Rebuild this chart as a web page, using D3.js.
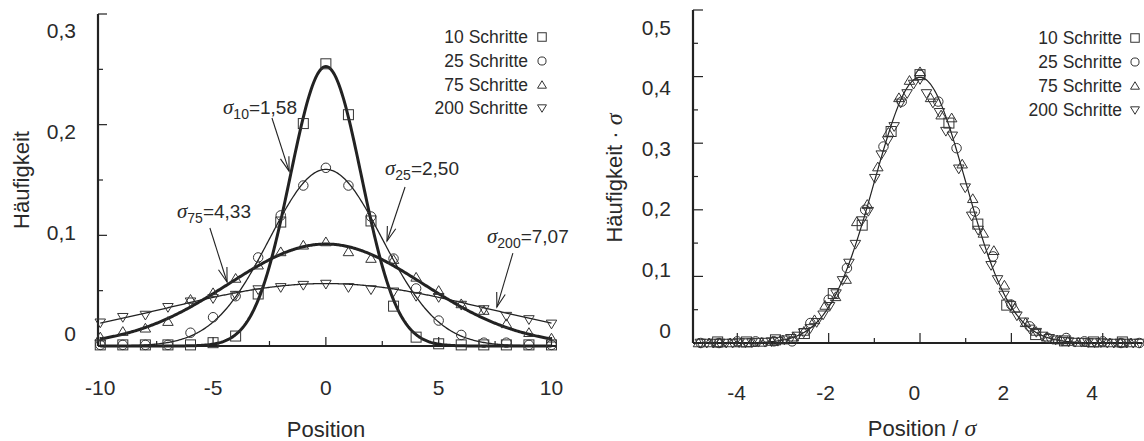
<!DOCTYPE html>
<html><head><meta charset="utf-8">
<script src="https://cdn.jsdelivr.net/npm/d3@7"></script>
<style>
body{margin:0;background:#fff}
svg{display:block}
text{font-family:"Liberation Sans",Arial,sans-serif;fill:#2a2a2a}
</style>
</head><body>
<svg id="c" width="1144" height="441"></svg>
<script>
// ---------------- data ----------------
const seriesNames = ["10 Schritte", "25 Schritte", "75 Schritte", "200 Schritte"];
const stepLabels = ["10", "25", "75", "200"];
const sigmas = [1.58, 2.50, 4.33, 7.07];
const sigmaLabels = ["1,58", "2,50", "4,33", "7,07"];
const markerTypes = ["square", "circle", "up", "down"];

// relative frequency at integer positions (first position given by start*)
const start10 = -10;
const freq10 = [0.001,0.001,0.001,0.001,0.001,0.003,0.009,0.047,0.112,0.201,0.255,
                0.209,0.113,0.036,0.008,0.002,0.001,0.001,0.001,0.001,0.001];
const start25 = -12;
const freq25 = [0,0,0.001,0.001,0.001,0.001,0.012,0.026,0.045,0.080,0.118,0.145,0.161,
                0.145,0.117,0.079,0.052,0.023,0.010,0.003,0.003,0.001,0.001,0,0];
const start75 = -21;
const freq75 = [0,0,0,0,0,0.0001,0.0002,0.0005,0.001,0.002,0.004,0.008,0.013,0.016,0.022,
                0.042,0.048,0.061,0.073,0.085,0.091,0.094,0.085,0.079,0.078,0.062,0.050,
                0.038,0.032,0.020,0.012,0.007,0.004,0.002,0.001,0.0005,0.0002,0.0001,0,0,0,0,0];
const start200 = -34;
const freq200 = [0,0,0,0,0,0,0.0001,0.0001,0.0001,0.0002,0.0002,0.0003,
                 0.0004,0.0007,0.001,0.0015,0.0022,0.0031,0.0044,0.006,0.0078,0.0105,0.0133,0.017,
                 0.021,0.026,0.028,0.035,0.040,0.043,0.046,0.051,0.053,0.055,0.056,
                 0.053,0.051,0.049,0.045,0.044,0.037,0.033,0.027,0.024,0.020,
                 0.0165,0.0135,0.0102,0.008,0.0058,0.0045,0.003,0.0023,0.0015,0.001,0.0007,0.0004,
                 0.0003,0.0002,0.0002,0.0001,0.0001,0.0001,0,0,0,0,0,0];

const xTicksLeft = [-10, -5, 0, 5, 10];
const xTickLabelsLeft = ["-10", "-5", "0", "5", "10"];
const yTicksLeft = [0, 0.1, 0.2, 0.3];
const yTickLabelsLeft = ["0", "0,1", "0,2", "0,3"];
const xTicksRight = [-4, -2, 0, 2, 4];
const xTickLabelsRight = ["-4", "-2", "0", "2", "4"];
const yTicksRight = [0, 0.1, 0.2, 0.3, 0.4, 0.5];
const yTickLabelsRight = ["0", "0,1", "0,2", "0,3", "0,4", "0,5"];

// annotation anchors in data coordinates (text, arrow start, arrow tip)
const annotText = [[-4.56,0.2096],[2.62,0.1545],[-6.60,0.1157],[7.14,0.0931]];
const annotFrom = [[-2.39,0.206],[3.51,0.1437],[-5.14,0.1066],[8.29,0.0840]];
const annotTip  = [[-1.63,0.158],[2.71,0.0949],[-4.38,0.0578],[7.58,0.0352]];

// ---------------- build ----------------
const starts = [start10, start25, start75, start200];
const freqs = [freq10, freq25, freq75, freq200];
const series = freqs.map((f, k) => f.map((v, i) => ({p: starts[k] + i, v})));

const svg = d3.select("#c");
const ink = "#222";
const gauss = (x, s) => Math.exp(-x * x / (2 * s * s)) / (s * Math.sqrt(2 * Math.PI));

function marker(g, type, x, y, s, sw) {
  const h = s / 2;
  let el;
  if (type === "square") el = g.append("rect").attr("x", x - h).attr("y", y - h).attr("width", s).attr("height", s);
  else if (type === "circle") el = g.append("circle").attr("cx", x).attr("cy", y).attr("r", h * 0.95);
  else if (type === "up") el = g.append("path").attr("d", `M${x},${y - h}L${x + h * 1.05},${y + h * 0.75}L${x - h * 1.05},${y + h * 0.75}Z`);
  else el = g.append("path").attr("d", `M${x},${y + h}L${x + h * 1.05},${y - h * 0.75}L${x - h * 1.05},${y - h * 0.75}Z`);
  el.attr("fill", "none").attr("stroke", "#333").attr("stroke-width", sw || 1);
}

// ================= LEFT =================
const xL = d3.scaleLinear().domain([-10.1, 10.2]).range([98, 556]);
const yL = d3.scaleLinear().domain([0, 0.3]).range([346, 14]);
const yLlab = d3.scaleLinear().domain([0, 0.3]).range([333, 30]);
const gl = svg.append("g");

gl.append("line").attr("x1", xL.range()[0]).attr("x2", xL.range()[1]).attr("y1", yL(0)).attr("y2", yL(0))
  .attr("stroke", ink).attr("stroke-width", 2);
gl.append("line").attr("x1", xL.range()[0]).attr("x2", xL.range()[0]).attr("y1", yL(0)).attr("y2", yL(0.3))
  .attr("stroke", ink).attr("stroke-width", 2.2);
d3.range(0, 0.3001, 0.05).forEach((t, i) => {
  const major = i % 2 === 0;
  gl.append("line").attr("x1", xL.range()[0]).attr("x2", xL.range()[0] + (major ? 9 : 5))
    .attr("y1", yL(t)).attr("y2", yL(t)).attr("stroke", ink).attr("stroke-width", 1.2);
});
d3.range(-10, 10.001, 2.5).forEach((t, i) => {
  const major = i % 2 === 0;
  gl.append("line").attr("x1", xL(t)).attr("x2", xL(t)).attr("y1", yL(0)).attr("y2", yL(0) - (major ? 9 : 5))
    .attr("stroke", ink).attr("stroke-width", 1.2);
});
yTicksLeft.forEach((t, i) => gl.append("text").attr("x", 76).attr("y", yLlab(t)).attr("dy", "0.36em")
  .attr("text-anchor", "end").attr("font-size", 21).text(yTickLabelsLeft[i]));
xTicksLeft.forEach((t, i) => gl.append("text").attr("x", xL(t)).attr("y", 387).attr("dy", "0.36em")
  .attr("text-anchor", "middle").attr("font-size", 21).text(xTickLabelsLeft[i]));
gl.append("text").attr("x", 326).attr("y", 437).attr("text-anchor", "middle").attr("font-size", 22).text("Position");
gl.append("text").attr("transform", "translate(29,180) rotate(-90)").attr("text-anchor", "middle")
  .attr("font-size", 22).text("Häufigkeit");

// curves
const xsL = d3.range(-10, 10.0001, 0.05);
sigmas.forEach((s, k) => {
  gl.append("path").datum(xsL)
    .attr("d", d3.line().x(d => xL(d)).y(d => yL(gauss(d, s))))
    .attr("fill", "none").attr("stroke", ink)
    .attr("stroke-width", (k === 0 || k === 2) ? 3 : 1.3);
});
series.forEach((ser, k) => {
  ser.filter(d => d.p >= -10 && d.p <= 10).forEach(d => marker(gl, markerTypes[k], xL(d.p), yL(d.v), 10));
});
sigmas.forEach((s, k) => {
  const t = gl.append("text").attr("x", xL(annotText[k][0])).attr("y", yL(annotText[k][1])).attr("font-size", 19);
  t.append("tspan").attr("font-family", "'Liberation Serif',serif").attr("font-style", "italic").attr("font-size", 21).text("σ");
  t.append("tspan").attr("dy", 5).attr("font-size", 14).text(stepLabels[k]);
  t.append("tspan").attr("dy", -5).text("=" + sigmaLabels[k]);
  const x1 = xL(annotFrom[k][0]), y1 = yL(annotFrom[k][1]);
  const x2 = xL(annotTip[k][0]), y2 = yL(annotTip[k][1]);
  gl.append("line").attr("x1", x1).attr("y1", y1).attr("x2", x2).attr("y2", y2).attr("stroke", ink).attr("stroke-width", 1.1);
  const a = Math.atan2(y1 - y2, x1 - x2), L = 15, da = 0.3;
  gl.append("path").attr("d", `M${x2 + L * Math.cos(a - da)},${y2 + L * Math.sin(a - da)}L${x2},${y2}L${x2 + L * Math.cos(a + da)},${y2 + L * Math.sin(a + da)}`)
    .attr("fill", "none").attr("stroke", ink).attr("stroke-width", 1.1);
});
const legRowsL = [37, 61, 85, 108];
seriesNames.forEach((n, k) => {
  gl.append("text").attr("x", 528).attr("y", legRowsL[k]).attr("dy", "0.36em").attr("text-anchor", "end").attr("font-size", 17.5).text(n);
  marker(gl, markerTypes[k], 542, legRowsL[k], 8.5);
});

// ================= RIGHT =================
const xR = d3.scaleLinear().domain([-4.97, 4.86]).range([693, 1142]);
const yR = d3.scaleLinear().domain([0, 0.5]).range([343, 10]);
const yRlab = d3.scaleLinear().domain([0, 0.5]).range([330, 27]);
const xRlab = d3.scaleLinear().domain([-4, 4]).range([736.6, 1092.2]);
const gr = svg.append("g");

gr.append("line").attr("x1", xR.range()[0]).attr("x2", xR.range()[1]).attr("y1", yR(0)).attr("y2", yR(0))
  .attr("stroke", ink).attr("stroke-width", 2);
gr.append("line").attr("x1", xR.range()[0]).attr("x2", xR.range()[0]).attr("y1", yR(0)).attr("y2", yR(0.5))
  .attr("stroke", ink).attr("stroke-width", 2.2);
d3.range(0, 0.5001, 0.05).forEach((t, i) => {
  const major = i % 2 === 0;
  gr.append("line").attr("x1", xR.range()[0]).attr("x2", xR.range()[0] + (major ? 10 : 5))
    .attr("y1", yR(t)).attr("y2", yR(t)).attr("stroke", ink).attr("stroke-width", 1.2);
});
d3.range(-4, 4.001, 1).forEach((t, i) => {
  const major = i % 2 === 0;
  gr.append("line").attr("x1", xR(t)).attr("x2", xR(t)).attr("y1", yR(0)).attr("y2", yR(0) - (major ? 10 : 5))
    .attr("stroke", ink).attr("stroke-width", 1.2);
});
yTicksRight.forEach((t, i) => gr.append("text").attr("x", 671).attr("y", yRlab(t)).attr("dy", "0.36em")
  .attr("text-anchor", "end").attr("font-size", 21).text(yTickLabelsRight[i]));
xTicksRight.forEach((t, i) => gr.append("text").attr("x", xRlab(t)).attr("y", 392).attr("dy", "0.36em")
  .attr("text-anchor", "middle").attr("font-size", 21).text(xTickLabelsRight[i]));
const tx = gr.append("text").attr("x", 922).attr("y", 436).attr("text-anchor", "middle").attr("font-size", 22);
tx.append("tspan").text("Position / ");
tx.append("tspan").attr("font-family", "'Liberation Serif',serif").attr("font-style", "italic").attr("font-size", 24).text("σ");
const ty = gr.append("text").attr("transform", "translate(622,178) rotate(-90)").attr("text-anchor", "middle").attr("font-size", 22);
ty.append("tspan").text("Häufigkeit · ");
ty.append("tspan").attr("font-family", "'Liberation Serif',serif").attr("font-style", "italic").attr("font-size", 24).text("σ");

const xsR = d3.range(-4.97, 4.86, 0.02);
gr.append("path").datum(xsR)
  .attr("d", d3.line().x(d => xR(d)).y(d => yR(gauss(d, 1))))
  .attr("fill", "none").attr("stroke", ink).attr("stroke-width", 1.2);
series.forEach((ser, k) => {
  ser.map(d => ({x: d.p / sigmas[k], y: d.v * sigmas[k]}))
    .filter(d => d.x >= -4.85 && d.x <= 4.82)
    .forEach(d => marker(gr, markerTypes[k], xR(d.x), yR(d.y), 10));
});
const legRowsR = [38, 62, 86, 110];
seriesNames.forEach((n, k) => {
  gr.append("text").attr("x", 1122).attr("y", legRowsR[k]).attr("dy", "0.36em").attr("text-anchor", "end").attr("font-size", 17.5).text(n);
  marker(gr, markerTypes[k], 1135, legRowsR[k], 8.5);
});
</script>
</body></html>
